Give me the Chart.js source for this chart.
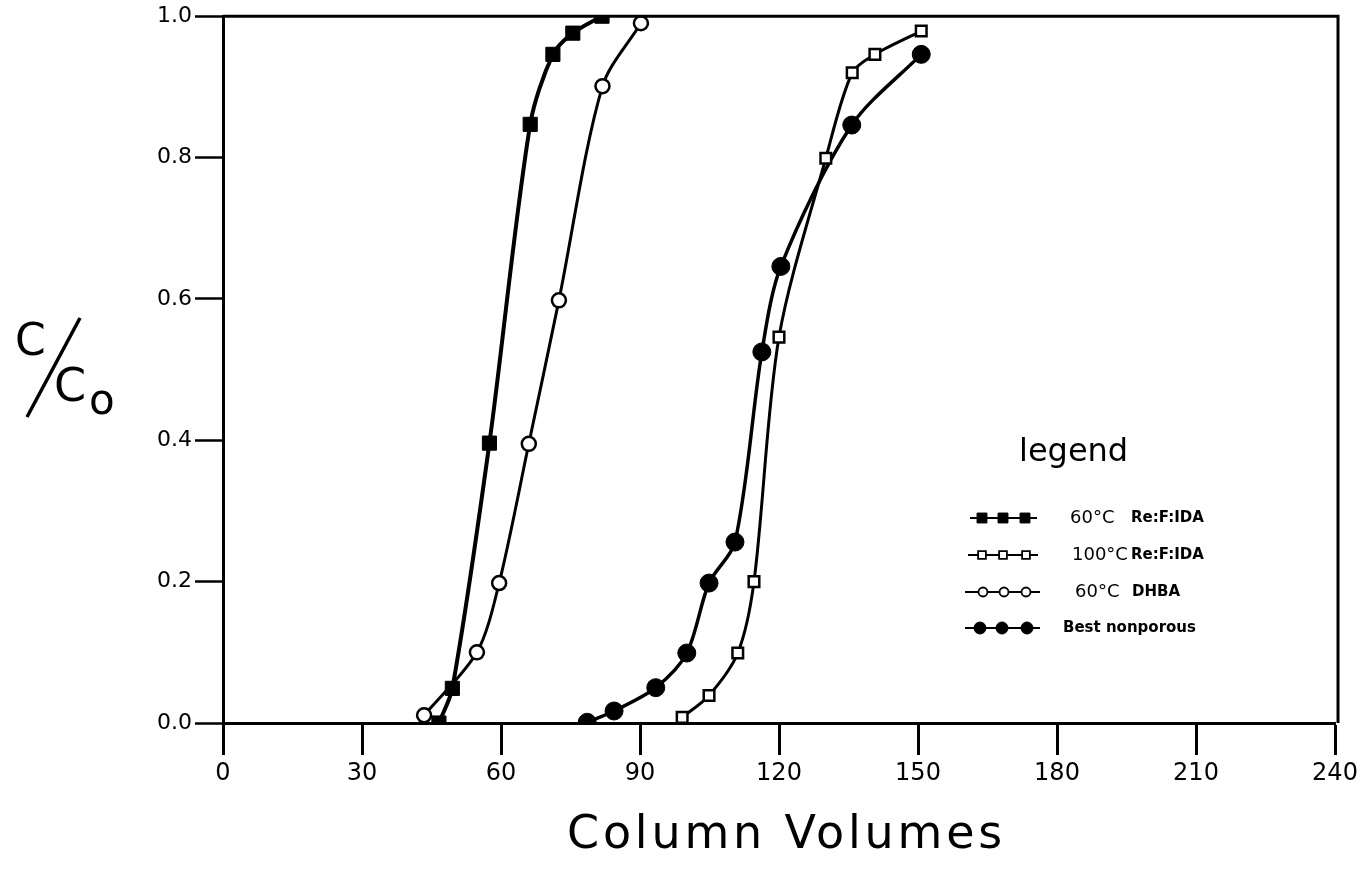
<!DOCTYPE html>
<html>
<head>
<meta charset="utf-8">
<script src="https://cdn.jsdelivr.net/npm/chart.js@4.4.1/dist/chart.umd.min.js"></script>
<style>
  html, body { margin: 0; padding: 0; background: #fff; }
  #wrap { width: 1368px; height: 870px; }
</style>
</head>
<body>
<div id="wrap"><canvas id="c" width="1368" height="870"></canvas></div>
<script>
// ---- data ----
const xTickValues = [0, 30, 60, 90, 120, 150, 180, 210, 240];
const yTickLabels = ['0.0', '0.2', '0.4', '0.6', '0.8', '1.0'];

const seriesNames = ['60°C  Re:F:IDA', '100°C  Re:F:IDA', '60°C  DHBA', 'Best nonporous'];
const legendTemps = ['60°C', '100°C', '60°C', ''];
const legendNames = ['Re:F:IDA', 'Re:F:IDA', 'DHBA', 'Best nonporous'];

const reF60X = [46.6, 49.5, 57.5, 66.3, 71.2, 75.5, 81.8];
const reF60Y = [0.0, 0.049, 0.396, 0.847, 0.946, 0.976, 1.0];

const reF100X = [99.1, 104.9, 111.1, 114.6, 120.0, 130.1, 135.8, 140.7, 150.7];
const reF100Y = [0.008, 0.039, 0.099, 0.20, 0.546, 0.799, 0.92, 0.946, 0.979];

const dhba60X = [43.4, 54.8, 59.6, 66.0, 72.5, 81.9, 90.2];
const dhba60Y = [0.011, 0.10, 0.198, 0.395, 0.598, 0.901, 0.99];

const bestX = [78.6, 84.4, 93.4, 100.1, 104.9, 110.5, 116.3, 120.4, 135.7, 150.7];
const bestY = [0.001, 0.017, 0.05, 0.099, 0.198, 0.256, 0.525, 0.646, 0.846, 0.946];

const xTitle = 'Column Volumes';
const yTitleParts = ['C', 'C', 'o'];
const legendTitle = 'legend';

function pts(xs, ys) { return xs.map((x, i) => ({ x: x, y: ys[i] })); }

const FONT = '"DejaVu Sans", "Liberation Sans", sans-serif';

const datasets = [
  { label: seriesNames[0], data: pts(reF60X, reF60Y), pointStyle: 'rect', pointRadius: 10,
    backgroundColor: '#000', borderColor: '#000', borderWidth: 4, pointBorderWidth: 1,
    legendRadius: 7 },
  { label: seriesNames[1], data: pts(reF100X, reF100Y), pointStyle: 'rect', pointRadius: 7.5,
    backgroundColor: '#fff', borderColor: '#000', borderWidth: 3, pointBorderWidth: 2.5,
    legendRadius: 5.5 },
  { label: seriesNames[2], data: pts(dhba60X, dhba60Y), pointStyle: 'circle', pointRadius: 7,
    backgroundColor: '#fff', borderColor: '#000', borderWidth: 3, pointBorderWidth: 2.5,
    legendRadius: 4.5 },
  { label: seriesNames[3], data: pts(bestX, bestY), pointStyle: 'circle', pointRadius: 9,
    backgroundColor: '#000', borderColor: '#000', borderWidth: 3.5, pointBorderWidth: 1,
    legendRadius: 6 }
];
datasets.forEach(d => {
  d.tension = 0.3;
  d.fill = false;
  d.pointBackgroundColor = d.backgroundColor;
  d.pointBorderColor = '#000';
});

const decorPlugin = {
  id: 'decor',
  afterDraw(chart) {
    const ctx = chart.ctx;
    const a = chart.chartArea;
    ctx.save();
    // frame: top and right
    ctx.strokeStyle = '#000';
    ctx.lineWidth = 3;
    ctx.beginPath();
    ctx.moveTo(a.left, a.top);
    ctx.lineTo(a.right + 3, a.top);
    ctx.lineTo(a.right + 3, a.bottom);
    ctx.stroke();

    // x title
    ctx.fillStyle = '#000';
    ctx.font = '46px ' + FONT;
    ctx.textBaseline = 'alphabetic';
    ctx.textAlign = 'left';
    try { ctx.letterSpacing = '3.8px'; } catch (e) {}
    ctx.fillText(xTitle, 567, 848);
    try { ctx.letterSpacing = '0px'; } catch (e) {}

    // y title  C / Co
    ctx.font = '44px ' + FONT;
    ctx.fillText(yTitleParts[0], 15, 355);
    ctx.font = '46px ' + FONT;
    ctx.fillText(yTitleParts[1], 54, 401);
    ctx.font = '42px ' + FONT;
    ctx.fillText(yTitleParts[2], 89, 414);
    ctx.lineWidth = 3.5;
    ctx.beginPath();
    ctx.moveTo(27, 417);
    ctx.lineTo(80, 318);
    ctx.stroke();

    // legend
    ctx.font = '32px ' + FONT;
    ctx.fillText(legendTitle, 1019, 461);
    const rows = [518, 555, 592, 628];
    const lineX = [[970, 1037], [968, 1038], [965, 1040], [965, 1040]];
    const markX = [[982, 1003, 1025], [982, 1003, 1026], [983, 1004, 1026], [980, 1002, 1027]];
    const tempX = [1070, 1072, 1075, 0];
    const nameX = [1131, 1131, 1132, 1063];
    chart.data.datasets.forEach((d, i) => {
      const y = rows[i];
      ctx.lineWidth = 2.2;
      ctx.strokeStyle = '#000';
      ctx.beginPath();
      ctx.moveTo(lineX[i][0], y);
      ctx.lineTo(lineX[i][1], y);
      ctx.stroke();
      markX[i].forEach(mx => {
        const r = d.legendRadius;
        ctx.fillStyle = d.backgroundColor;
        ctx.lineWidth = d.pointBorderWidth > 1.5 ? 1.8 : 1;
        ctx.beginPath();
        if (d.pointStyle === 'rect') {
          const s = r * Math.SQRT1_2;
          ctx.rect(mx - s, y - s, 2 * s, 2 * s);
        } else {
          ctx.arc(mx, y, r, 0, Math.PI * 2);
        }
        ctx.fill();
        ctx.stroke();
      });
      ctx.fillStyle = '#000';
      ctx.textBaseline = 'middle';
      if (legendTemps[i]) {
        ctx.font = '18px ' + FONT;
        ctx.fillText(legendTemps[i], tempX[i], y);
      }
      ctx.font = 'bold 15px ' + FONT;
      ctx.fillText(legendNames[i], nameX[i], y);
    });
    ctx.restore();
  }
};

new Chart(document.getElementById('c'), {
  type: 'line',
  data: { datasets: datasets },
  plugins: [decorPlugin],
  options: {
    responsive: false,
    animation: false,
    devicePixelRatio: 1,
    layout: { padding: { top: 16, right: 33, left: 0, bottom: 0 } },
    plugins: { legend: { display: false }, tooltip: { enabled: false }, title: { display: false } },
    scales: {
      x: {
        type: 'linear', min: 0, max: 240,
        afterFit(s) { s.height = 147; },
        afterBuildTicks(s) { s.ticks = xTickValues.map(v => ({ value: v })); },
        border: { display: true, color: '#000', width: 3 },
        grid: { display: true, drawOnChartArea: false, drawTicks: true, tickLength: 32, tickWidth: 3, tickColor: '#000', color: '#000' },
        ticks: { color: '#000', padding: 4, maxRotation: 0, autoSkip: false, font: { family: FONT, size: 24 },
                 callback: v => String(v) },
        title: { display: false }
      },
      y: {
        type: 'linear', min: 0, max: 1,
        afterFit(s) { s.width = 223; },
        afterBuildTicks(s) { s.ticks = yTickLabels.map(t => ({ value: parseFloat(t) })); },
        border: { display: true, color: '#000', width: 3 },
        grid: { display: true, drawOnChartArea: false, drawTicks: true, tickLength: 28, tickWidth: 2.5, tickColor: '#000', color: '#000' },
        ticks: { color: '#000', padding: 3, autoSkip: false, font: { family: FONT, size: 22 },
                 callback: (v, i) => yTickLabels[i] },
        title: { display: false }
      }
    }
  }
});
</script>
</body>
</html>
